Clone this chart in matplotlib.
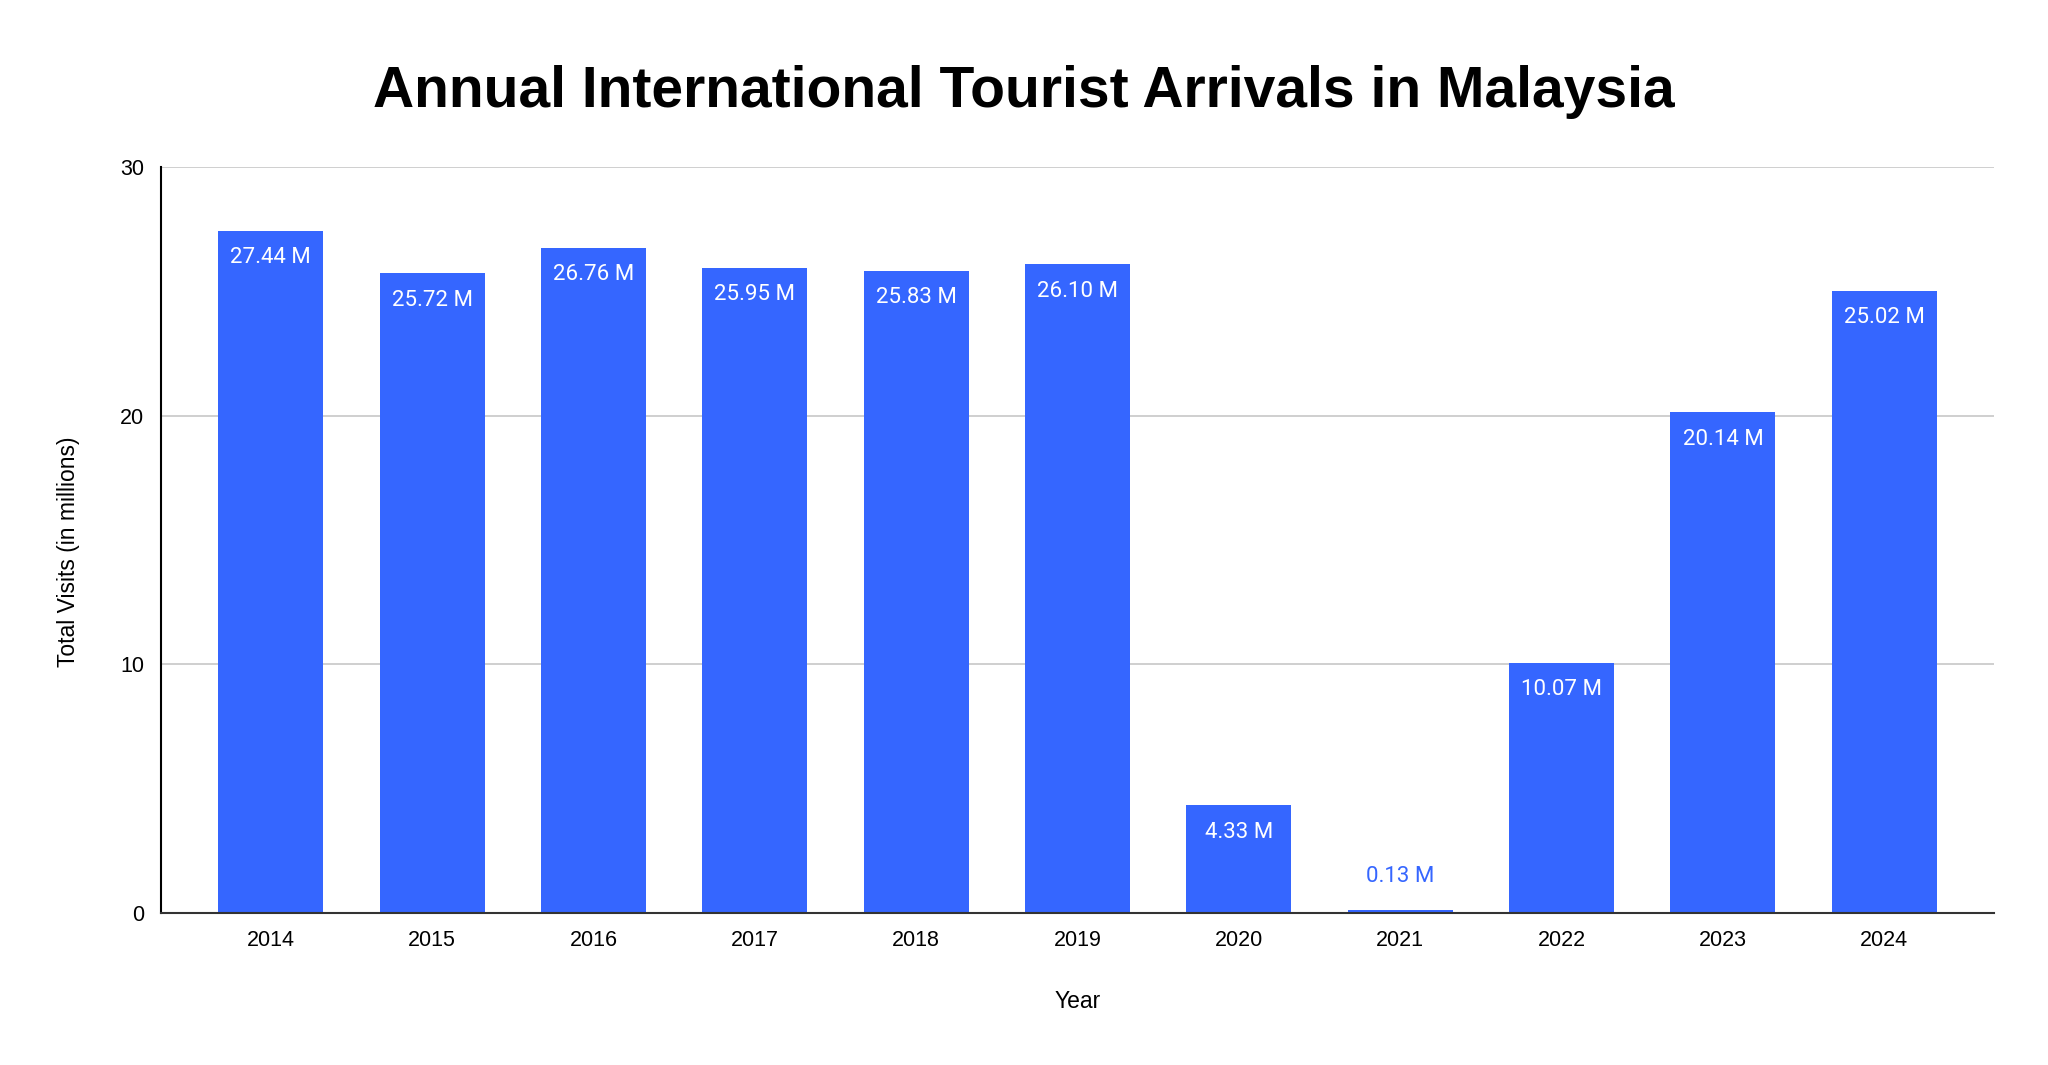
import matplotlib
matplotlib.use("Agg")
import matplotlib.pyplot as plt

# data
years = ["2014", "2015", "2016", "2017", "2018", "2019", "2020", "2021", "2022", "2023", "2024"]
arrivals = [27.44, 25.72, 26.76, 25.95, 25.83, 26.10, 4.33, 0.13, 10.07, 20.14, 25.02]
y_ticks = [0, 10, 20, 30]

bar_color = "#3566ff"

fig = plt.figure(figsize=(20.48, 10.65), dpi=100)
ax = fig.add_axes([161 / 2048, 1 - 913 / 1065, (1994 - 161) / 2048, (913 - 167) / 1065])

x = list(range(len(years)))
bars = ax.bar(x, arrivals, width=0.65, color=bar_color, zorder=3)

for b, v in zip(bars, arrivals):
    cx = b.get_x() + b.get_width() / 2
    label = f"{v:.2f} M"
    if v > 2:
        ax.annotate(label, (cx, v), xytext=(0, -19.5), textcoords="offset points",
                    ha="center", va="center", color="white", fontsize=16,
                    family="Roboto", zorder=4)
    else:
        ax.annotate(label, (cx, v), xytext=(0, 24), textcoords="offset points",
                    ha="center", va="center", color=bar_color, fontsize=16,
                    family="Roboto", zorder=4)

ax.set_xlim(-0.68, len(years) - 1 + 0.68)
ax.set_ylim(0, 30)
ax.set_xticks(x)
ax.set_xticklabels(years, family="Liberation Sans", fontsize=15.5)
ax.set_yticks(y_ticks)
ax.set_yticklabels([str(t) for t in y_ticks], family="Liberation Sans", fontsize=15.5)
ax.tick_params(axis="both", length=0, pad=12)

ax.grid(axis="y", color="#cccccc", linewidth=1.3, zorder=0)
for s in ["top", "right"]:
    ax.spines[s].set_visible(False)
ax.spines["left"].set_color("black")
ax.spines["left"].set_linewidth(1.5)
ax.spines["bottom"].set_color("#333333")
ax.spines["bottom"].set_linewidth(1.5)
ax.spines["bottom"].set_zorder(5)

ax.set_xlabel("Year", family="Liberation Sans", fontsize=16.5, labelpad=28)
ax.set_ylabel("Total Visits (in millions)", family="Liberation Sans", fontsize=16.5, labelpad=29)
ax.yaxis.label.set_y(0.484)

fig.text(0.5, 1 - 92 / 1065, "Annual International Tourist Arrivals in Malaysia",
         ha="center", va="center", fontsize=41, fontweight="bold", family="Liberation Sans")

fig.savefig("out.png", dpi=100, facecolor="white")
